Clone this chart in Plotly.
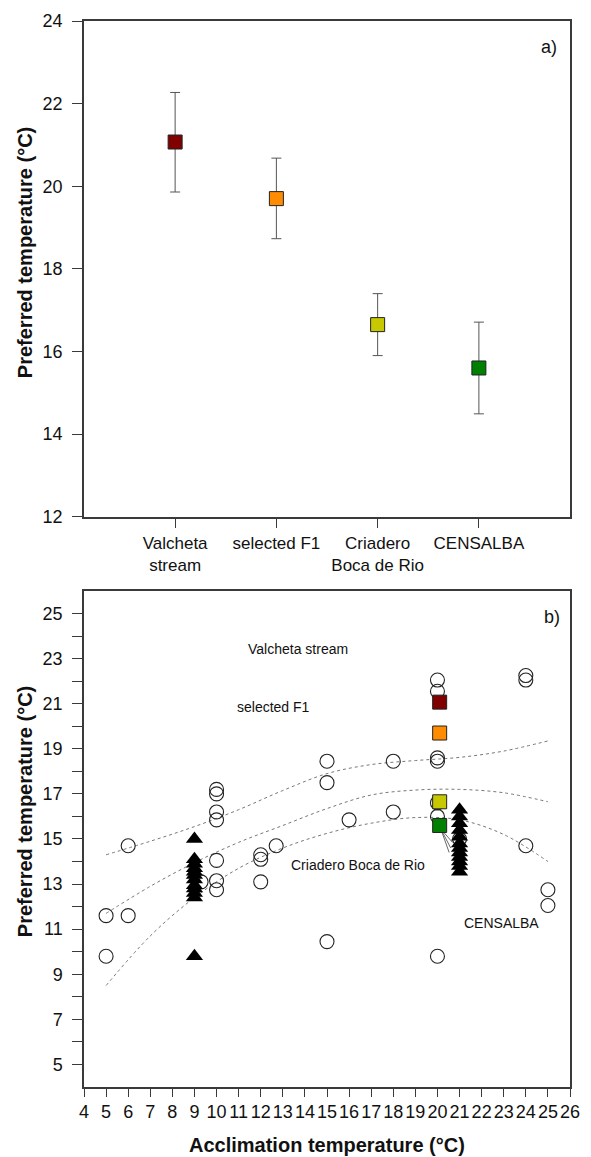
import plotly.graph_objects as go

# ---------- Panel a) data ----------
groups = ["Valcheta<br>stream", "selected F1", "Criadero<br>Boca de Rio", "CENSALBA"]
group_colors = ["#800000", "#FF8C00", "#C8C800", "#008000"]
pref_mean = [21.07, 19.70, 16.65, 15.60]
pref_upper = [22.27, 20.68, 17.40, 16.71]
pref_lower = [19.86, 18.73, 15.90, 14.49]
ya_ticks = [12, 14, 16, 18, 20, 22, 24]

# ---------- Panel b) data ----------
circ_x = [5, 5, 6, 6, 9.3, 10, 10, 10, 10, 10, 10, 10, 12, 12, 12, 12.7,
          15, 15, 15, 16, 18, 18, 20, 20, 20, 20, 20, 20, 20, 21, 24, 24, 24, 25, 25]
circ_y = [11.6, 9.8, 14.7, 11.6, 13.1, 17.2, 17.0, 16.2, 15.85, 14.05, 13.15, 12.75, 14.1, 14.3, 13.1, 14.7,
          18.45, 17.5, 10.45, 15.85, 18.45, 16.2, 22.05, 21.55, 18.6, 18.45, 16.6, 16.0, 9.8, 15.0, 22.25, 22.05, 14.7, 12.75, 12.05]

tri_x = [9, 9, 9, 9, 9, 9, 9, 9, 9, 9, 9, 9,
         21, 21, 21, 21, 21, 21, 21, 21, 21, 21, 21, 21]
tri_y = [15.0, 14.1, 13.9, 13.7, 13.55, 13.4, 13.2, 12.95, 12.8, 12.6, 12.4, 9.8,
         16.3, 16.0, 15.7, 15.4, 15.1, 14.8, 14.6, 14.4, 14.2, 14.0, 13.8, 13.55]

square_x = 20.1  # group means plotted at this acclimation temperature

fit_x = [5, 7, 9, 11, 13, 15, 17, 19, 21, 23, 25]
fit_upper = [14.3, 14.9, 15.55, 16.3, 17.15, 17.9, 18.3, 18.48, 18.62, 18.9, 19.35]
fit_mid = [11.7, 12.9, 13.95, 14.85, 15.6, 16.35, 16.95, 17.17, 17.2, 17.05, 16.65]
fit_lower = [8.5, 10.7, 12.4, 13.7, 14.6, 15.25, 15.7, 15.95, 15.85, 15.2, 14.0]

leader_end_x = [20.53, 20.6, 20.68]
leader_end_y = [14.4, 14.6, 14.85]

xb_ticks = list(range(4, 27))
yb_ticks = list(range(5, 26))
yb_text = [str(v) if v % 2 == 1 else "" for v in yb_ticks]

group_labels_b = ["Valcheta stream", "selected F1", "Criadero Boca de Rio", "CENSALBA"]
label_x_b = [13.69, 12.59, 16.39, 22.88]
label_y_b = [23.42, 20.84, 13.85, 11.27]

FONT = "Arial, 'Liberation Sans', sans-serif"
AX = "#3a3a3a"

fig = go.Figure()

# Panel a
fig.add_trace(go.Scatter(
    x=groups, y=pref_mean, mode="markers", xaxis="x", yaxis="y",
    marker=dict(symbol="square", size=14, color=group_colors, line=dict(color="#222", width=1)),
    error_y=dict(type="data", symmetric=False,
                 array=[u - m for u, m in zip(pref_upper, pref_mean)],
                 arrayminus=[m - l for m, l in zip(pref_mean, pref_lower)],
                 color="#555", thickness=1, width=5),
    showlegend=False))

# Panel b: fit curves
for ys in (fit_upper, fit_mid, fit_lower):
    fig.add_trace(go.Scatter(x=fit_x, y=ys, mode="lines", xaxis="x2", yaxis="y2",
                             line=dict(color="#777", width=1, dash="dot", shape="spline"),
                             showlegend=False, hoverinfo="skip"))

fig.add_trace(go.Scatter(x=circ_x, y=circ_y, mode="markers", xaxis="x2", yaxis="y2",
                         marker=dict(symbol="circle-open", size=14, color="#222", line=dict(width=1.1)),
                         showlegend=False))
fig.add_trace(go.Scatter(x=tri_x, y=tri_y, mode="markers", xaxis="x2", yaxis="y2",
                         marker=dict(symbol="triangle-up", size=15, color="#000"),
                         showlegend=False))

# leader lines from CENSALBA square
lx, ly = [], []
for ex, ey in zip(leader_end_x, leader_end_y):
    lx += [square_x + 0.05, ex, None]
    ly += [pref_mean[3] - 0.15, ey, None]
fig.add_trace(go.Scatter(x=lx, y=ly, mode="lines", xaxis="x2", yaxis="y2",
                         line=dict(color="#444", width=0.8), showlegend=False, hoverinfo="skip"))

fig.add_trace(go.Scatter(x=[square_x] * len(pref_mean), y=pref_mean, mode="markers", xaxis="x2", yaxis="y2",
                         marker=dict(symbol="square", size=14, color=group_colors, line=dict(color="#222", width=1)),
                         showlegend=False))

tickfont = dict(family=FONT, size=18, color="#111")
axis_common = dict(showline=True, linecolor=AX, linewidth=1.5, mirror=True, showgrid=False,
                   zeroline=False, ticks="outside", tickcolor=AX, tickwidth=1.2, tickfont=tickfont)

fig.update_layout(
    width=591, height=1157,
    margin=dict(l=84, r=11, t=21, b=70),
    paper_bgcolor="white", plot_bgcolor="white",
    font=dict(family=FONT, color="#111"),
    xaxis=dict(domain=[0, 1], anchor="y", type="category", range=[-0.9, 3.9], ticklen=10,
               **{**axis_common, "tickfont": dict(family=FONT, size=17, color="#111")}),
    yaxis=dict(domain=[0.535, 1], anchor="x", range=[12, 24], tickvals=ya_ticks, ticklen=10,
               ticklabelstandoff=6, **axis_common),
    xaxis2=dict(domain=[0, 1], anchor="y2", range=[4, 26], tickvals=xb_ticks, ticklen=8,
                **axis_common),
    yaxis2=dict(domain=[0, 0.4653], anchor="x2", range=[4, 26], tickvals=yb_ticks, ticktext=yb_text,
                ticklen=10, ticklabelstandoff=6, **axis_common),
)

ann = []
ann.append(dict(text="a)", x=4.69 - 1, y=23.37, xref="x", yref="y", showarrow=False,
                font=dict(family=FONT, size=18, color="#111")))
ann.append(dict(text="b)", x=25.18, y=24.84, xref="x2", yref="y2", showarrow=False,
                font=dict(family=FONT, size=18, color="#111")))
for t, x, y in zip(group_labels_b, label_x_b, label_y_b):
    ann.append(dict(text=t, x=x, y=y, xref="x2", yref="y2", showarrow=False,
                    font=dict(family=FONT, size=14, color="#111")))
title_font = dict(family=FONT, size=20, color="#111", weight="bold")
ann.append(dict(text="<b>Preferred temperature (°C)</b>", x=-0.121, y=0.7824, xref="paper", yref="paper",
                textangle=-90, showarrow=False, font=title_font, xanchor="center", yanchor="middle"))
ann.append(dict(text="<b>Preferred temperature (°C)</b>", x=-0.121, y=0.258, xref="paper", yref="paper",
                textangle=-90, showarrow=False, font=title_font, xanchor="center", yanchor="middle"))
ann.append(dict(text="<b>Acclimation temperature (°C)</b>", x=0.5, y=-0.0544, xref="paper", yref="paper",
                showarrow=False, font=title_font, xanchor="center", yanchor="middle"))
fig.update_layout(annotations=ann)

fig.write_html("out.html", config={"displayModeBar": False},
               post_script="document.body.style.margin='0';document.body.style.overflow='hidden';")
